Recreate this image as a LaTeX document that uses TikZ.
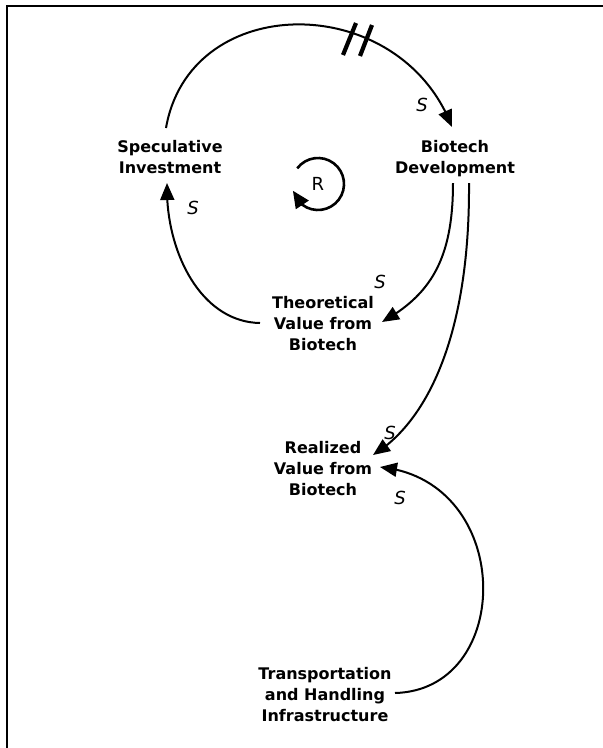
\documentclass[tikz,border=0pt]{standalone}
\usepackage{fontspec}
\setmainfont{DejaVu Sans}
\usetikzlibrary{arrows.meta,bending}
\begin{document}
\begin{tikzpicture}[x=1pt,y=-1pt,
  var/.style={font=\fontsize{16}{21}\selectfont\bfseries, align=center, inner sep=0pt},
  pol/.style={font=\fontsize{18}{20}\selectfont\itshape, inner sep=0pt},
  link/.style={line width=2pt, -{Triangle[length=17pt,width=14pt]}},
  loopline/.style={line width=2.6pt, -{Triangle[length=17pt,width=15pt]}},
  delaybar/.style={line width=4.2pt},
  frameline/.style={line width=2.2pt}]
\useasboundingbox (0,0) rectangle (603,748);
% frame (top and left edges only)
\draw[frameline] (6,6) -- (603,6);
\draw[frameline] (6.6,6) -- (6.6,748);
% variables
\node[var] (SI) at (170,157) {Speculative\\Investment};
\node[var] (BD) at (455,159) {Biotech\\Development};
\node[var] (TV) at (323,324) {Theoretical\\Value from\\Biotech};
\node[var] (RV) at (323,469) {Realized\\Value from\\Biotech};
\node[var] (TH) at (325,695) {Transportation\\and Handling\\Infrastructure};
\node[font=\fontsize{18}{20}\selectfont, inner sep=0pt] (R) at (318,184) {R};
% links
\draw[link] ([shift={(-4,-29)}]SI.center) .. controls +(24,-138) and +(-52,-137) .. ([shift={(-3,-32)}]BD.center);
\draw[link] ([shift={(-2,24)}]BD.center) .. controls +(0,77) and +(48,-27) .. ([shift={(59,-2)}]TV.center);
\draw[link] ([shift={(14,24)}]BD.center) .. controls +(1,147) and +(57,-35) .. ([shift={(50,-14)}]RV.center);
\draw[link] ([shift={(-63,-1)}]TV.center) .. controls +(-60,-1) and +(-2,67) .. ([shift={(-3,26)}]SI.center);
\draw[link] ([shift={(70,-2)}]TH.center) .. controls +(120,-3) and +(135,13) .. ([shift={(57,-2)}]RV.center);
% delay marks
\draw[delaybar] (343,55) -- (356,23);
\draw[delaybar] (360,56) -- (372,25);
% loop marker
\draw[loopline] ([shift={(143:26pt)}]R.center) arc[start angle=143, end angle=-165, radius=26pt];
% polarity labels
\node[pol] (p1) at (422,105) {S};
\node[pol] (p2) at (193,208) {S};
\node[pol] (p3) at (380,282) {S};
\node[pol] (p4) at (390,433) {S};
\node[pol] (p5) at (400,498) {S};
\end{tikzpicture}
\end{document}
